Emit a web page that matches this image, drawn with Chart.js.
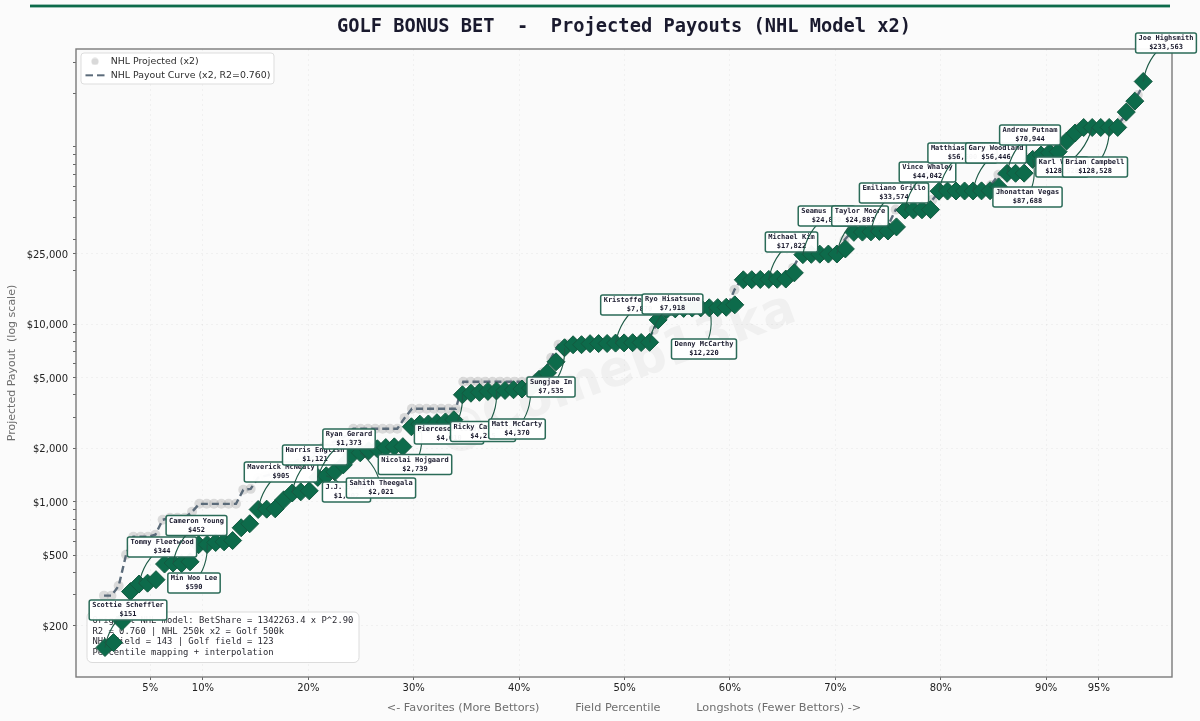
<!DOCTYPE html>
<html><head><meta charset="utf-8">
<style>html,body{margin:0;padding:0;background:#fbfbfb}canvas{display:block}</style>
<script src="https://cdn.jsdelivr.net/npm/chart.js@4"></script>
</head><body><canvas id="c" width="1200" height="721"></canvas>
<script>
// ---------- data ----------
const titleText = 'GOLF BONUS BET  -  Projected Payouts (NHL Model x2)';
const xTickValues = [5,10,20,30,40,50,60,70,80,90,95];
const yLabelledTicks = [200,500,1000,2000,5000,10000,25000];
const yMinorTicks = [200,300,400,500,600,700,800,900,1000,2000,3000,4000,5000,6000,7000,8000,9000,10000,20000,25000,30000,40000,50000,60000,70000,80000,90000,100000,200000,300000];

const golfPct = [
0.71,1.52,2.32,3.13,3.94,4.75,5.55,6.36,7.17,7.98,
8.78,9.59,10.40,11.21,12.01,12.82,13.63,14.44,15.24,16.05,
16.86,17.67,18.47,19.28,20.09,20.90,21.70,22.51,23.32,24.12,
24.93,25.74,26.55,27.35,28.16,28.97,29.78,30.58,31.39,32.20,
33.01,33.81,34.62,35.43,36.24,37.04,37.85,38.66,39.47,40.27,
41.08,41.89,42.69,43.50,44.31,45.12,45.92,46.73,47.54,48.35,
49.15,49.96,50.77,51.58,52.38,53.19,54.00,54.81,55.61,56.42,
57.23,58.04,58.84,59.65,60.46,61.27,62.07,62.88,63.69,64.49,
65.30,66.11,66.92,67.72,68.53,69.34,70.15,70.95,71.76,72.57,
73.38,74.18,74.99,75.80,76.61,77.41,78.22,79.03,79.84,80.64,
81.45,82.26,83.07,83.87,84.68,85.49,86.29,87.10,87.91,88.72,
89.52,90.33,91.14,91.95,92.75,93.56,94.37,95.18,95.98,96.79,
97.60,98.41,99.21];
const golfPayout = [
151,161,212,312,344,348,364,446,452,449,
459,573,575,590,595,605,714,752,905,909,
913,1026,1121,1138,1153,1373,1402,1476,1615,1840,
1888,1940,1990,2021,2040,2045,2648,2739,2745,2790,
2820,2900,4010,4090,4140,4190,4215,4240,4280,4320,
4370,4900,5330,6150,7380,7670,7680,7780,7790,7800,
7840,7860,7880,7900,7918,10590,12100,12220,12300,12350,
12380,12400,12420,12480,12880,17822,17850,17900,17920,17950,
18000,19500,24700,24800,24850,24887,24900,26600,33000,33100,
33200,33400,33574,35400,44042,44100,44200,44300,56300,56350,
56400,56420,56446,56500,56600,59500,70944,71000,71100,85000,
90000,92700,94000,108000,119700,128528,128528,128600,128600,128700,
157000,181000,233563];

const nhlPct = [
0.62,1.32,2.01,2.71,3.40,4.10,4.79,5.49,6.18,6.88,
7.58,8.27,8.97,9.66,10.36,11.05,11.75,12.44,13.14,13.83,
14.53,15.23,15.92,16.62,17.31,18.01,18.70,19.40,20.09,20.79,
21.49,22.18,22.88,23.57,24.27,24.96,25.66,26.35,27.05,27.74,
28.44,29.14,29.83,30.53,31.22,31.92,32.61,33.31,34.00,34.70,
35.40,36.09,36.79,37.48,38.18,38.87,39.57,40.26,40.96,41.65,
42.35,43.05,43.74,44.44,45.13,45.83,46.52,47.22,47.91,48.61,
49.31,50.00,50.70,51.39,52.09,52.78,53.48,54.17,54.87,55.56,
56.26,56.96,57.65,58.35,59.04,59.74,60.43,61.13,61.82,62.52,
63.22,63.91,64.61,65.30,66.00,66.69,67.39,68.08,68.78,69.47,
70.17,70.87,71.56,72.26,72.95,73.65,74.34,75.04,75.73,76.43,
77.13,77.82,78.52,79.21,79.91,80.60,81.30,81.99,82.69,83.38,
84.08,84.78,85.47,86.17,86.86,87.56,88.25,88.95,89.64,90.34,
91.04,91.73,92.43,93.12,93.82,94.51,95.21,95.90,96.60,97.29,
97.99,98.69,99.38];
const nhlPayout = [
296,296,336,503,635,635,635,652,792,812,
812,812,878,974,974,974,974,974,974,1168,
1183,1365,1401,1438,1476,1554,1680,1770,1840,1913,
2041,2150,2235,2355,2580,2580,2580,2580,2580,2580,
2580,2970,3345,3345,3345,3345,3345,3345,3345,4745,
4745,4745,4745,4745,4745,4745,4745,4745,4805,4990,
5395,6480,7670,7780,7780,7800,7820,7840,7860,7870,
7880,7880,7900,7900,7920,9310,11770,12400,12400,12400,
12400,12400,12400,12400,12400,12400,15660,18050,18050,18050,
18050,18050,18050,18050,20800,24900,24900,24900,24900,24900,
24900,29900,33200,33200,33200,33200,33200,36400,44300,44300,
44300,44300,44300,50300,56400,56400,56400,56400,56400,56400,
56400,61000,69600,71000,71000,71000,86700,90200,92700,92700,
100200,109800,120000,129000,129000,129000,129000,129000,129000,145000,
168000,196000,233563];

// callouts: player name, printed payout, rank of the marker it points at
const calloutNames = ['Scottie Scheffler','Tommy Fleetwood','Cameron Young','Min Woo Lee','Maverick McNealy','Harris English','Ryan Gerard','J.J. Spaun','Sahith Theegala','Nicolai Hojgaard','Pierceson Coody','Ricky Castillo','Matt McCarty','Sungjae Im','Kristoffer Reitan','Ryo Hisatsune','Denny McCarthy','Michael Kim','Seamus Power','Taylor Moore','Emiliano Grillo','Vince Whaley','Matthias Schmid','Gary Woodland','Andrew Putnam','Jhonattan Vegas','Karl Vilips','Brian Campbell','Joe Highsmith'];
const calloutTexts = ['$151','$344','$452','$590','$905','$1,121','$1,373','$1,402','$2,021','$2,739','$4,010','$4,215','$4,370','$7,535','$7,870','$7,918','$12,220','$17,822','$24,850','$24,887','$33,574','$44,042','$56,600','$56,446','$70,944','$87,688','$128,528','$128,528','$233,563'];
const calloutRanks = [0,4,8,12,18,22,25,26,30,37,42,46,50,54,60,64,71,78,82,86,90,94,98,102,106,109,116,118,122];
// label box centres on the page
const calloutBoxX = [128,162,196.5,194,281,315,349,346.5,381,415,449,483,517,551,639.5,672.5,704,791.5,826.5,860,894,927.5,962.5,996,1030,1027.5,1062,1095,1166];
const calloutBoxY = [610,547,525.5,583,472,455,439,492,488,464.5,434,431.5,429,387,305,304,349,242,216,216,193,172,153,153,135,197,167,167,43];

const infoLines = ['Original NHL model: BetShare = 1342263.4 x P^2.90','R2 = 0.760 | NHL 250k x2 = Golf 500k','NHL field = 143 | Golf field = 123','Percentile mapping + interpolation'];
const watermarkText = '@Comeb13ka';

// ---------- styles ----------
const SANS = "'DejaVu Sans', sans-serif", MONO = "'DejaVu Sans Mono', monospace";
const GREEN = '#0d6b4b', EDGE = '#145a41', BOX_EDGE = '#2b6b58';
Chart.defaults.font.family = SANS;
Chart.defaults.animation = false;

function legendSwatch(kind){
  const c = document.createElement('canvas'); c.width = 22; c.height = 8;
  const g = c.getContext('2d');
  if (kind === 'dot'){ g.fillStyle='rgba(170,170,170,0.45)'; g.beginPath(); g.arc(11,4,3.6,0,Math.PI*2); g.fill(); }
  else { g.strokeStyle='#5b6b7a'; g.lineWidth=2; g.setLineDash([7.5,4]); g.beginPath(); g.moveTo(1.5,4); g.lineTo(21,4); g.stroke(); }
  return c;
}
const swatches = [legendSwatch('dot'), legendSwatch('line')];

function rr(ctx,x,y,w,h,r){ ctx.beginPath(); ctx.roundRect(x,y,w,h,r); }

const decor = {
  id:'decor',
  afterLayout(chart){
    const lg = chart.legend;
    if (lg && !lg._wrapped){
      lg._wrapped = true;
      const orig = lg.draw;
      lg.draw = function(){
        const ctx = chart.ctx; ctx.save();
        rr(ctx,81,53,193,31,3); ctx.fillStyle='rgba(255,255,255,0.95)'; ctx.fill();
        ctx.strokeStyle='#dddddd'; ctx.lineWidth=1; ctx.stroke();
        ctx.translate(3.5,52.2);
        orig.call(lg);
        ctx.restore();
      };
    }
  },
  beforeDraw(chart){
    const {ctx,chartArea:a} = chart;
    ctx.save();
    ctx.fillStyle='#fbfbfb'; ctx.fillRect(0,0,chart.width,chart.height);
    ctx.fillStyle='#fafafa'; ctx.fillRect(a.left,a.top,a.width,a.height);
    ctx.fillStyle=GREEN; ctx.fillRect(30,4.6,1140,2.8);
    ctx.restore();
  },
  beforeDatasetsDraw(chart){
    const {ctx,chartArea:a} = chart;
    ctx.save();
    // watermark
    ctx.translate((a.left+a.right)/2-8,(a.top+a.bottom)/2+10); ctx.rotate(-20*Math.PI/180);
    ctx.font="bold 50px "+SANS; ctx.fillStyle='rgba(130,130,130,0.08)';
    ctx.textAlign='center'; ctx.textBaseline='middle';
    ctx.fillText(watermarkText,0,0);
    ctx.restore();
    // spines
    ctx.save();
    ctx.strokeStyle='#7a7a7a'; ctx.lineWidth=1.4;
    ctx.strokeRect(a.left,a.top,a.width,a.height);
    // info box
    rr(ctx,87,612,272,50.5,5); ctx.fillStyle='rgba(255,255,255,0.92)'; ctx.fill();
    ctx.strokeStyle='#dcdcdc'; ctx.lineWidth=1; ctx.stroke();
    ctx.font="8.85px "+MONO; ctx.fillStyle='#2a2a32'; ctx.textAlign='left'; ctx.textBaseline='middle';
    infoLines.forEach((t,i)=>ctx.fillText(t,92.5,621+i*10.6));
    ctx.restore();
  },
  afterDatasetsDraw(chart){
    const {ctx} = chart, xs = chart.scales.x, ys = chart.scales.y;
    ctx.save();
    ctx.font="bold 7px "+MONO; ctx.textAlign='center'; ctx.textBaseline='middle';
    calloutNames.forEach((name,i)=>{
      const r = calloutRanks[i], bx = calloutBoxX[i], by = calloutBoxY[i];
      const px = xs.getPixelForValue(golfPct[r]), py = ys.getPixelForValue(golfPayout[r]);
      const mx=(bx+px)/2, my=(by+py)/2, rad=0.2;
      ctx.beginPath(); ctx.moveTo(bx,by);
      ctx.quadraticCurveTo(mx-rad*(py-by), my+rad*(px-bx), px, py);
      ctx.strokeStyle='#1d5a46'; ctx.lineWidth=1.1; ctx.stroke();
      const w = Math.max(ctx.measureText(name).width, ctx.measureText(calloutTexts[i]).width)+6;
      rr(ctx,bx-w/2,by-10,w,20,2);
      ctx.fillStyle='rgba(255,255,255,0.96)'; ctx.fill();
      ctx.strokeStyle=BOX_EDGE; ctx.lineWidth=1.5; ctx.stroke();
      ctx.fillStyle='#1a1a2e';
      ctx.fillText(name,bx,by-4.4);
      ctx.fillText(calloutTexts[i],bx,by+4.6);
    });
    ctx.restore();
  }
};

const money = v => '$'+Number(v).toLocaleString('en-US');

new Chart(document.getElementById('c'),{
  type:'scatter',
  plugins:[decor],
  data:{datasets:[
    {label:'NHL Projected (x2)', data:nhlPct.map((x,i)=>({x,y:nhlPayout[i]})), order:3,
     pointStyle:'circle', pointRadius:5, pointBackgroundColor:'rgba(170,170,170,0.4)', pointBorderWidth:0, showLine:false},
    {label:'NHL Payout Curve (x2, R2=0.760)', data:nhlPct.map((x,i)=>({x,y:nhlPayout[i]})), order:2,
     showLine:true, borderColor:'#5b6b7a', borderWidth:2.4, borderDash:[7,4], pointRadius:0, tension:0},
    {label:'Golf players', data:golfPct.map((x,i)=>({x,y:golfPayout[i]})), order:1,
     pointStyle:'rectRot', pointRadius:9, pointBackgroundColor:GREEN, pointBorderColor:EDGE, pointBorderWidth:1, showLine:false}
  ]},
  options:{
    responsive:false, animation:false,
    layout:{padding:{left:0,right:28,top:0,bottom:0}},
    plugins:{
      tooltip:{enabled:false},
      title:{display:true,fullSize:false,text:titleText,color:'#1a1a2e',
        font:{family:MONO,size:18.7,weight:'bold',lineHeight:1.2},padding:{top:16,bottom:10.56}},
      legend:{display:true,position:'chartArea',align:'start',
        labels:{usePointStyle:true,pointStyleWidth:22,boxHeight:8,padding:4.5,color:'#2e2e2e',font:{size:9.4,family:SANS},
          generateLabels(chart){
            return chart.data.datasets.slice(0,2).map((d,i)=>({text:d.label,datasetIndex:i,pointStyle:swatches[i],
              fillStyle:'transparent',strokeStyle:'transparent',lineWidth:0,hidden:false,fontColor:'#2e2e2e'}));
          }}}
    },
    scales:{
      x:{type:'linear',min:-2.04,max:101.94,
        afterBuildTicks(s){s.ticks=xTickValues.map(value=>({value}));},
        afterFit(s){s.height=44;},
        border:{display:false,dash:[2,3]},
        grid:{color:'rgba(0,0,0,0.05)',lineWidth:0.8,tickColor:'#555',tickLength:3,tickWidth:0.9},
        ticks:{autoSkip:false,maxRotation:0,minRotation:0,padding:2.5,color:'#222',font:{size:10},callback:v=>v+'%'},
        title:{display:true,text:'<- Favorites (More Bettors)          Field Percentile          Longshots (Fewer Bettors) ->',
          color:'#6e6e6e',font:{size:11.28},padding:{top:0,bottom:6}}},
      y:{type:'logarithmic',min:103,max:356000,
        afterBuildTicks(s){s.ticks=yMinorTicks.map(value=>({value}));},
        afterFit(s){s.width=76;},
        border:{display:false,dash:[2,3]},
        grid:{color:c=>yLabelledTicks.includes(c.tick&&c.tick.value)?'rgba(0,0,0,0.05)':'transparent',lineWidth:0.8,
          tickColor:'#555',tickLength:3,tickWidth:0.9},
        ticks:{autoSkip:false,padding:5,color:'#222',font:{size:10,lineHeight:0.3},
          callback:v=>yLabelledTicks.includes(v)?['',money(v)]:''},
        title:{display:true,text:'Projected Payout  (log scale)',color:'#6e6e6e',font:{size:11},padding:{top:6,bottom:0}}}
    }
  }
});
</script></body></html>
